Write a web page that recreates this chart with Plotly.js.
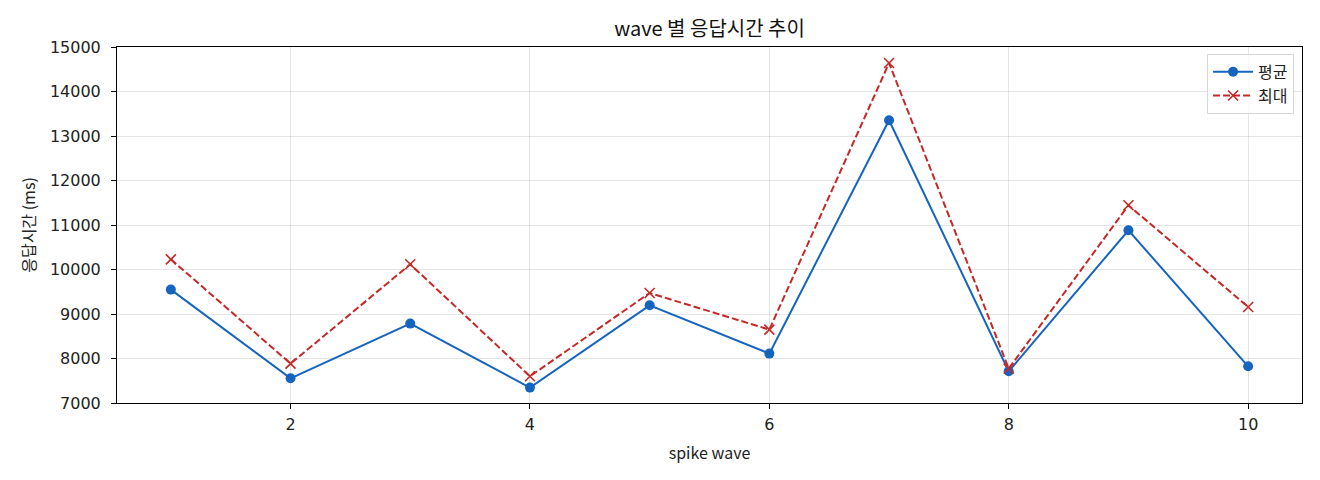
<!DOCTYPE html>
<html>
<head>
<meta charset="utf-8">
<script src="https://cdn.plot.ly/plotly-3.0.1.min.js"></script>
<style>
  html, body { margin: 0; padding: 0; background: #fff; }
  #chart { width: 1320px; height: 480px; }
</style>
</head>
<body>
<div id="chart"></div>
<script>
// spike wave 번호
const waves = [1, 2, 3, 4, 5, 6, 7, 8, 9, 10];
// 평균 응답시간 (ms)
const avgMs = [9548, 7555, 8784, 7346, 9195, 8110, 13353, 7712, 10881, 7825];
// 최대 응답시간 (ms)
const maxMs = [10229, 7885, 10117, 7600, 9472, 8649, 14640, 7773, 11443, 9157];

const KR = '"Noto Sans CJK KR", "Noto Sans", sans-serif';
const NUM = '"DejaVu Sans", sans-serif';

const traces = [
    {
        x: waves,
        y: avgMs,
        name: '평균',
        mode: 'lines+markers',
        line: {color: '#1565c0', width: 2},
        marker: {symbol: 'circle', size: 10, color: '#1565c0'}
    },
    {
        x: waves,
        y: maxMs,
        name: '최대',
        mode: 'lines+markers',
        line: {color: '#c62828', width: 2, dash: '7px,3px'},
        marker: {symbol: 'x-thin-open', size: 10, line: {color: '#c62828', width: 1.6}}
    }
];

const layout = {
    width: 1320,
    height: 480,
    margin: {l: 117, r: 18, t: 47, b: 77},
    paper_bgcolor: '#fff',
    plot_bgcolor: '#fff',
    font: {family: KR, size: 14, color: '#222'},
    title: {
        text: 'wave 별 응답시간 추이',
        xref: 'paper',
        x: 0.5,
        xanchor: 'center',
        y: 1 - 29 / 480,
        yanchor: 'middle',
        font: {family: KR, size: 20, color: '#111'}
    },
    xaxis: {
        range: [0.55, 10.45],
        tickvals: [2, 4, 6, 8, 10],
        ticks: 'outside',
        ticklen: 5,
        tickcolor: '#000',
        ticklabelstandoff: 2,
        showline: true,
        linecolor: '#000',
        linewidth: 1,
        mirror: true,
        showgrid: true,
        gridcolor: 'rgba(0,0,0,0.1)',
        zeroline: false,
        tickfont: {family: NUM, size: 16, color: '#222'},
        title: {text: 'spike wave', standoff: 14, font: {family: KR, size: 16, color: '#222'}}
    },
    yaxis: {
        range: [7000, 15000],
        dtick: 1000,
        tickformat: 'd',
        ticks: 'outside',
        ticklen: 5,
        tickcolor: '#000',
        ticklabelstandoff: 7,
        showline: true,
        linecolor: '#000',
        linewidth: 1,
        mirror: true,
        showgrid: true,
        gridcolor: 'rgba(0,0,0,0.1)',
        zeroline: false,
        tickfont: {family: NUM, size: 16, color: '#222'},
        title: {text: '응답시간 (ms)', standoff: 10, font: {family: KR, size: 16, color: '#222'}}
    },
    legend: {
        x: 0.9933,
        xanchor: 'right',
        y: 0.981,
        yanchor: 'top',
        bgcolor: 'rgba(255,255,255,0.8)',
        bordercolor: '#d8d8d8',
        borderwidth: 1,
        itemwidth: 40,
        tracegroupgap: 4,
        font: {family: KR, size: 16, color: '#222'}
    },
    showlegend: true
};

Plotly.newPlot('chart', traces, layout, {displayModeBar: false, staticPlot: true});
</script>
</body>
</html>
